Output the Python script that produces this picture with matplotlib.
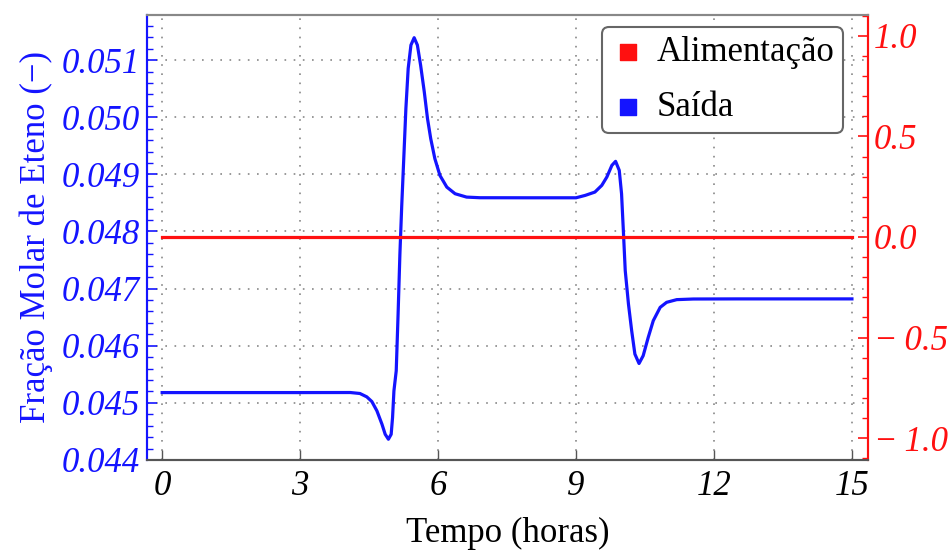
import numpy as np
import matplotlib
matplotlib.use("Agg")
import matplotlib.pyplot as plt
from matplotlib.ticker import MultipleLocator

plt.rcParams['font.family'] = ['Liberation Serif', 'DejaVu Serif']

# curva de saida
tempo = [0.0, 1.0, 2.0, 3.0, 4.09, 4.30, 4.45, 4.56, 4.67, 4.78, 4.85, 4.92,
         4.98, 5.01, 5.04, 5.09, 5.13, 5.17, 5.21, 5.26, 5.30, 5.35, 5.41, 5.48,
         5.55, 5.62, 5.70, 5.77, 5.84, 5.93, 6.04, 6.19, 6.37, 6.62, 6.91, 8.0,
         9.0, 9.20, 9.41, 9.56, 9.67, 9.78, 9.86, 9.94, 9.99, 10.03, 10.07, 10.14,
         10.21, 10.28, 10.37, 10.46, 10.57, 10.68, 10.83, 10.97, 11.19, 11.55,
         12.5, 13.5, 15.0]
saida = [0.04518, 0.04518, 0.04518, 0.04518, 0.045181, 0.045164, 0.045105,
         0.045023, 0.04486, 0.044626, 0.04445, 0.044363, 0.04445, 0.044742,
         0.04521, 0.045561, 0.04654, 0.047608, 0.048456, 0.049391, 0.050152,
         0.050854, 0.051263, 0.051392, 0.051263, 0.050912, 0.050444, 0.049977,
         0.049626, 0.049275, 0.048982, 0.048777, 0.048661, 0.048602, 0.048591,
         0.04859, 0.04859, 0.048632, 0.04869, 0.048807, 0.048953, 0.049158,
         0.049228, 0.04907, 0.048661, 0.04800, 0.047316, 0.046731, 0.046263,
         0.045854, 0.045689, 0.045825, 0.046146, 0.046439, 0.046672, 0.04676,
         0.046807, 0.046818, 0.04682, 0.04682, 0.04682]

# alimentacao (eixo direito)
tempo_alim = [0.0, 15.0]
alimentacao = [0.0, 0.0]

xticks = [0, 3, 6, 9, 12, 15]
yticks_esq = [0.044, 0.045, 0.046, 0.047, 0.048, 0.049, 0.050, 0.051]
yticks_dir = [-1.0, -0.5, 0.0, 0.5, 1.0]
yticklabels_dir = ['\u2212\u20091.0', '\u2212\u20090.5', '0.0', '0.5', '1.0']

azul = '#1414ff'
vermelho = '#ff1010'
fs = 25

fig = plt.figure(figsize=(9.52, 5.55), dpi=100)
ax = fig.add_axes([0.1544, 0.1712, 0.7574, 0.8018])
ax2 = ax.twinx()

ax.plot(tempo, saida, color=azul, lw=2.3, zorder=3, solid_joinstyle='round')
ax2.plot(tempo_alim, alimentacao, color=vermelho, lw=2.3, zorder=3)

ax.set_xlim(-0.33, 15.35)
ax.set_ylim(0.04400, 0.05179)
ax2.set_ylim(-1.109, 1.104)

ax.set_xticks(xticks)
ax.set_xticklabels([str(t) for t in xticks])
ax.set_yticks(yticks_esq)
ax.set_yticklabels(['%.3f' % v for v in yticks_esq])
ax.yaxis.set_minor_locator(MultipleLocator(0.0002))
ax2.set_yticks(yticks_dir)
ax2.set_yticklabels(yticklabels_dir)
ax2.yaxis.set_minor_locator(MultipleLocator(0.1))

ax.grid(True, which='major', color='#888888', linestyle=(0, (1, 4.5)), lw=1.2)

ax.tick_params(axis='x', direction='in', length=7, width=1, color='#555555',
               labelsize=fs, pad=7, top=False)
ax.tick_params(axis='y', which='major', direction='in', length=7, width=1.2,
               color=azul, labelcolor=azul, labelsize=fs, pad=5)
ax.tick_params(axis='y', which='minor', direction='in', length=4, width=1,
               color=azul)
ax2.tick_params(axis='y', which='major', direction='in', length=7, width=1.2,
                color=vermelho, labelcolor=vermelho, labelsize=fs, pad=4)
ax2.tick_params(axis='y', which='minor', direction='in', length=4, width=1,
                color=vermelho)

for lab in ax.get_xticklabels() + ax.get_yticklabels() + ax2.get_yticklabels():
    lab.set_style('italic')

for a in (ax, ax2):
    a.spines['left'].set_color(azul)
    a.spines['left'].set_linewidth(1.5)
    a.spines['right'].set_color(vermelho)
    a.spines['right'].set_linewidth(1.5)
    a.spines['top'].set_color('#888888')
    a.spines['top'].set_linewidth(1.5)
    a.spines['bottom'].set_color('#555555')
    a.spines['bottom'].set_linewidth(1.5)

ax.set_xlabel('Tempo (horas)', fontsize=fs, labelpad=10)
ax.set_ylabel('Fração Molar de Eteno (\u2212)', fontsize=fs, color=azul, labelpad=6)

h1 = ax.scatter([], [], marker='s', s=130, color=vermelho, label='Alimentação')
h2 = ax.scatter([], [], marker='s', s=130, color=azul, label='Saída')
leg = ax2.legend(handles=[h1, h2], loc='upper right', bbox_to_anchor=(0.989, 1.012),
                 fontsize=fs, frameon=True, fancybox=True, edgecolor='#666666',
                 framealpha=1, handletextpad=0.3, borderpad=0.25, labelspacing=0.65,
                 handlelength=1.0, borderaxespad=0.5)
leg.get_frame().set_linewidth(1.5)

fig.savefig('out.png', dpi=100)
